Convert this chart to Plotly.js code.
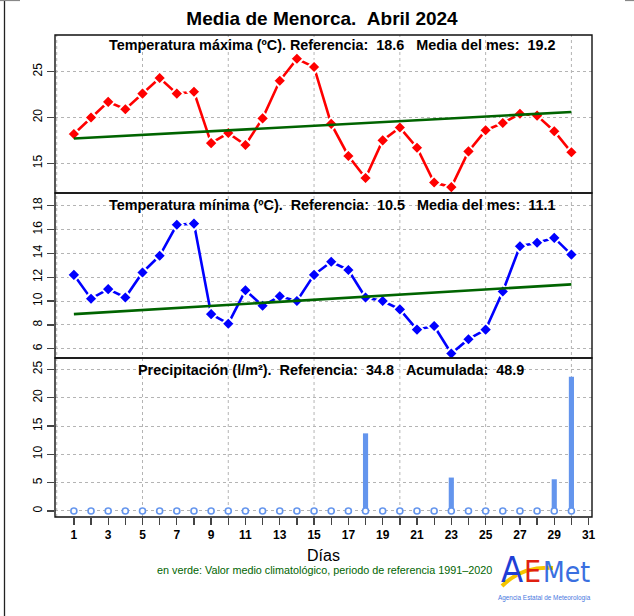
<!DOCTYPE html>
<html>
<head>
<meta charset="utf-8">
<script src="https://cdn.plot.ly/plotly-3.0.1.min.js"></script>
<style>html,body{margin:0;padding:0;background:#fff;}#chart{width:634px;height:616px;}</style>
</head>
<body>
<div id="chart"></div>
<script>
// ---------- data ----------
const days = [1,2,3,4,5,6,7,8,9,10,11,12,13,14,15,16,17,18,19,20,21,22,23,24,25,26,27,28,29,30];
const tmax = [18.2,20.0,21.7,20.9,22.6,24.3,22.6,22.8,17.2,18.3,17.0,19.9,24.0,26.4,25.5,19.3,15.8,13.4,17.5,18.9,16.7,12.9,12.4,16.3,18.6,19.4,20.4,20.2,18.5,16.2];
const tmin = [12.2,10.2,11.0,10.3,12.4,13.8,16.4,16.5,8.9,8.1,10.9,9.6,10.4,10.0,12.2,13.3,12.6,10.3,10.0,9.3,7.6,7.9,5.6,6.8,7.6,10.8,14.6,14.9,15.3,13.9];
const precip = [0,0,0,0,0,0,0,0,0,0,0,0,0,0,0,0,0,13.7,0,0,0,0,5.9,0,0,0,0,0,5.6,23.7];
const climDays = [1,30];
const climTmax = [17.7,20.6];
const climTmin = [8.9,11.4];
const refTmax = '18.6', meanTmax = '19.2';
const refTmin = '10.5', meanTmin = '11.1';
const refPrec = '34.8', accPrec = '48.9';
const xTickVals = [1,2,3,4,5,6,7,8,9,10,11,12,13,14,15,16,17,18,19,20,21,22,23,24,25,26,27,28,29,30,31];
const xTickText = ['1','','3','','5','','7','','9','','11','','13','','15','','17','','19','','21','','23','','25','','27','','29','','31'];
const xGrid = [0,5,10,15,20,25,30];
const tmaxTicks = [15,20,25];
const tminTicks = [6,8,10,12,14,16,18];
const precTicks = [0,5,10,15,20,25];

// ---------- helpers (pixel -> paper) ----------
const L = 55, R = 592, T = 35, B = 517;
const px = x => (x - L) / (R - L);
const py = y => (B - y) / (B - T);
const nb = s => s.replace(/ /g, '\u00a0');

const FONT = 'Liberation Sans, Arial, Helvetica, sans-serif';
const NARROW = 'DejaVu Sans Condensed, Liberation Sans Narrow, sans-serif';
const GRID = '#b4b4b4';
const d1 = py(193), d2 = py(358);

const traces = [
  {x: days, y: tmax, xaxis:'x', yaxis:'y', type:'scatter', mode:'lines+markers',
   line:{color:'#ff0000', width:2.6},
   marker:{symbol:'diamond', size:10, color:'#ff0000', line:{color:'#ffffff', width:2}}},
  {x: climDays, y: climTmax, xaxis:'x', yaxis:'y', type:'scatter', mode:'lines',
   line:{color:'#006400', width:2.6}},
  {x: days, y: tmin, xaxis:'x', yaxis:'y2', type:'scatter', mode:'lines+markers',
   line:{color:'#0000ff', width:2.6},
   marker:{symbol:'diamond', size:10, color:'#0000ff', line:{color:'#ffffff', width:2}}},
  {x: climDays, y: climTmin, xaxis:'x', yaxis:'y2', type:'scatter', mode:'lines',
   line:{color:'#006400', width:2.6}},
  {x: days, y: precip, xaxis:'x', yaxis:'y3', type:'bar', width:0.3,
   marker:{color:'#6495ed', line:{width:0}}},
  {x: days, y: days.map(() => 0), xaxis:'x', yaxis:'y3', type:'scatter', mode:'markers',
   marker:{symbol:'circle', size:6, color:'#ffffff', line:{color:'#6495ed', width:1.6}}}
];

const yCommon = {
  showline:false, zeroline:false, ticks:'outside', ticklen:7, tickwidth:1.3, tickcolor:'#444',
  tickangle:-90, tickfont:{family:FONT, size:12, color:'#000'},
  showgrid:true, gridcolor:GRID, griddash:'dot', gridwidth:1, tickmode:'array', fixedrange:true
};

const shapes = [];
xGrid.forEach(v => shapes.push({type:'line', xref:'x', yref:'paper', x0:v, x1:v, y0:0, y1:1,
  layer:'below', line:{color:GRID, width:1, dash:'dot'}}));
[[d1,1],[d2,d1],[0,d2]].forEach(([a,b]) => shapes.push({type:'rect', xref:'paper', yref:'paper',
  x0:0, x1:1, y0:a, y1:b, line:{color:'#111', width:1.4}, fillcolor:'rgba(0,0,0,0)'}));
// outer left frame line and top edge bits
shapes.push({type:'line', xref:'paper', yref:'paper', x0:px(4.5), x1:px(4.5), y0:py(0), y1:py(616), line:{color:'#222', width:1.3}});
shapes.push({type:'line', xref:'paper', yref:'paper', x0:px(0), x1:px(20), y0:py(0.5), y1:py(0.5), line:{color:'#888', width:1.2}});
shapes.push({type:'line', xref:'paper', yref:'paper', x0:px(625), x1:px(634), y0:py(0.5), y1:py(0.5), line:{color:'#888', width:1.2}});
// logo swoosh
shapes.push({type:'path', xref:'paper', yref:'paper',
  path:`M ${px(502)} ${py(586)} Q ${px(522)} ${py(566)} ${px(553)} ${py(568)}`,
  line:{color:'#f5c400', width:4}});

const ann = (text, x, y, size, color, bold, extra) => Object.assign({
  text: text, xref:'paper', yref:'paper', x: px(x), y: py(y), showarrow:false,
  xanchor:'center', yanchor:'middle',
  font:{family:FONT, size:size, color:color, weight: bold ? 'bold' : 'normal'}}, extra || {});

const annotations = [
  ann(nb('Temperatura máxima (ºC). Referencia:  ' + refTmax + '   Media del mes:  ' + meanTmax), 331.5, 45, 14.4, '#000', true),
  ann(nb('Temperatura mínima (ºC).  Referencia:  ' + refTmin + '   Media del mes:  ' + meanTmin), 331.5, 205, 14.4, '#000', true),
  ann(nb('Precipitación (l/m²).  Referencia:  ' + refPrec + '   Acumulada:  ' + accPrec), 331, 370, 14.4, '#000', true),
  ann('en verde: Valor medio climatológico, periodo de referencia 1991\u20132020', 324, 570, 10.8, '#006400', false),
  ann('A', 512, 569, 36, '#1f3fd6', false, {font:{family:NARROW, size:36, color:'#1f3fd6'}}),
  ann('E', 532, 571, 30, '#e02010', false, {font:{family:NARROW, size:30, color:'#e02010'}}),
  ann('Met', 541, 572, 28, '#3a6fe0', false, {xanchor:'left', font:{family:NARROW, size:28, color:'#3a6fe0'}}),
  ann('Agencia Estatal de Meteorología', 544, 598, 6.4, '#4a78e0', false)
];

const layout = {
  width:634, height:616,
  margin:{l:L, r:634-R, t:T, b:616-B, pad:0},
  paper_bgcolor:'#fff', plot_bgcolor:'#fff',
  showlegend:false, hovermode:false,
  title:{text:nb('Media de Menorca.  Abril 2024'), x:322/634, xref:'container', xanchor:'center',
    y:1-18/616, yref:'container', yanchor:'middle',
    font:{family:FONT, size:19, color:'#000', weight:'bold'}},
  xaxis:{range:[-0.1,31.2], anchor:'y3', tickmode:'array', tickvals:xTickVals, ticktext:xTickText,
    ticks:'outside', ticklen:7, tickwidth:1.3, tickcolor:'#444', showgrid:false, zeroline:false, showline:false,
    tickfont:{family:FONT, size:12, color:'#000', weight:'bold'}, fixedrange:true,
    title:{text:'Días', standoff:8, font:{family:FONT, size:16, color:'#000'}}},
  yaxis: Object.assign({}, yCommon, {domain:[d1,1], range:[11.76,29.0], tickvals:tmaxTicks}),
  yaxis2: Object.assign({}, yCommon, {domain:[d2,d1], range:[5.22,19.07], tickvals:tminTicks}),
  yaxis3: Object.assign({}, yCommon, {domain:[0,d2], range:[-1.06,27.0], tickvals:precTicks}),
  shapes: shapes,
  annotations: annotations
};

Plotly.newPlot('chart', traces, layout, {staticPlot:true, displayModeBar:false});
</script>
</body>
</html>
